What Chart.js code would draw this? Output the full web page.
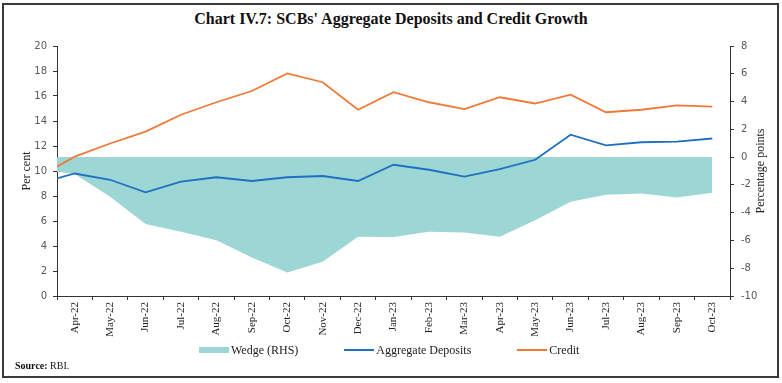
<!DOCTYPE html>
<html>
<head>
<meta charset="utf-8">
<script src="https://cdn.jsdelivr.net/npm/chart.js@4.4.0/dist/chart.umd.min.js"></script>
<style>
  body { margin: 0; background: #fff; }
  #frame { position: absolute; left: 2px; top: 3px; width: 773px; height: 371px; border: 2px solid #3a3a3a; }
  #title { position: absolute; left: 0; top: 10px; width: 782px; text-align: center;
           font: bold 16px "Liberation Serif", serif; color: #111; }
  #chart { position: absolute; left: 0; top: 0; }
  #legend { position: absolute; left: 199px; top: 342px; display: flex; gap: 46px;
            font: 12px "Liberation Serif", serif; color: #222; }
  #legend .item { display: flex; align-items: center; height: 16px; }
  #legend .mark { width: 30px; margin-right: 2px; }
  #source { position: absolute; left: 15px; top: 360px; font: 10px "Liberation Serif", serif; color: #111; }
</style>
</head>
<body>
<div id="frame"></div>
<div id="title">Chart IV.7: SCBs' Aggregate Deposits and Credit Growth</div>
<canvas id="chart" width="782" height="383"></canvas>
<div id="legend"></div>
<div id="source"><b>Source:</b> RBI.</div>
<script>
const tickLabels = ['Apr-22', 'May-22', 'Jun-22', 'Jul-22', 'Aug-22', 'Sep-22', 'Oct-22', 'Nov-22', 'Dec-22',
  'Jan-23', 'Feb-23', 'Mar-23', 'Apr-23', 'May-23', 'Jun-23', 'Jul-23', 'Aug-23', 'Sep-23', 'Oct-23'];
// first value of each series is the opening reading, sitting on the left edge of the axis
const depositGrowth = [9.4, 9.8, 9.3, 8.3, 9.15, 9.5, 9.2, 9.5, 9.6, 9.2, 10.5, 10.1, 9.55, 10.15, 10.9, 12.9, 12.05, 12.3, 12.35, 12.6];
const creditGrowth = [10.35, 11.15, 12.2, 13.15, 14.5, 15.5, 16.4, 17.8, 17.1, 14.9, 16.3, 15.5, 14.95, 15.9, 15.4, 16.1, 14.7, 14.9, 15.25, 15.15];
const wedgeRhs = [-1.06, -1.22, -2.86, -4.82, -5.37, -5.98, -7.22, -8.3, -7.54, -5.74, -5.76, -5.37, -5.42, -5.74, -4.54, -3.22, -2.71, -2.62, -2.9, -2.57];

const BLUE = '#1f70c1';
const ORANGE = '#ef7a37';
const TEAL = '#9dd7d5';
const AXIS = '#333';

function toPoints(vals) {
  return vals.map((v, i) => ({ x: i === 0 ? 0 : i - 0.5, y: v }));
}

const rhsTitle = {
  id: 'rhsTitle',
  afterDraw(chart) {
    const { ctx, chartArea } = chart;
    ctx.save();
    ctx.translate(chart.scales.y1.right - 21, (chartArea.top + chartArea.bottom) / 2);
    ctx.rotate(-Math.PI / 2);
    ctx.font = '12px "Liberation Serif"';
    ctx.fillStyle = '#222';
    ctx.textAlign = 'center';
    ctx.textBaseline = 'middle';
    ctx.fillText('Percentage points', 0, 0);
    ctx.restore();
  }
};

const yTicks = { font: { family: 'DejaVu Sans', size: 10 }, color: '#595959', stepSize: 2 };
const axisGrid = { drawOnChartArea: false, color: AXIS, tickLength: 4 };

const chart = new Chart(document.getElementById('chart'), {
  type: 'line',
  data: {
    labels: tickLabels,
    datasets: [
      { label: 'Aggregate Deposits', data: toPoints(depositGrowth), xAxisID: 'xd', yAxisID: 'y',
        borderColor: BLUE, borderWidth: 1.8, pointRadius: 0, tension: 0, fill: false },
      { label: 'Credit', data: toPoints(creditGrowth), xAxisID: 'xd', yAxisID: 'y',
        borderColor: ORANGE, borderWidth: 1.8, pointRadius: 0, tension: 0, fill: false },
      { label: 'Wedge (RHS)', data: toPoints(wedgeRhs), xAxisID: 'xd', yAxisID: 'y1',
        borderWidth: 0, borderColor: TEAL, backgroundColor: TEAL, pointRadius: 0, tension: 0, fill: 'origin' }
    ]
  },
  options: {
    responsive: false,
    animation: false,
    layout: { padding: { top: 46, left: 0, right: 0, bottom: 0 } },
    plugins: { legend: { display: false }, tooltip: { enabled: false } },
    scales: {
      x: {
        type: 'category', position: 'bottom', offset: true,
        grid: { ...axisGrid, offset: true },
        border: { color: AXIS, width: 1 },
        ticks: { font: { family: 'Liberation Serif', size: 11 }, color: '#222',
                 minRotation: 90, maxRotation: 90, autoSkip: false, padding: 2 },
        afterFit: s => { s.height = 87; }
      },
      xd: { type: 'linear', display: false, min: 0, max: tickLabels.length, offset: false },
      y: {
        position: 'left', min: 0, max: 20,
        grid: axisGrid, border: { color: AXIS, width: 1 },
        ticks: { ...yTicks, padding: 6 },
        title: { display: true, text: 'Per cent', font: { family: 'Liberation Serif', size: 12 },
                 color: '#222', padding: { top: 20, bottom: 0 } },
        afterFit: s => { s.width = 57; }
      },
      y1: {
        position: 'right', min: -10, max: 8,
        grid: axisGrid, border: { color: AXIS, width: 1 },
        ticks: { ...yTicks, padding: 7 },
        afterFit: s => { s.width = 52; }
      }
    }
  },
  plugins: [rhsTitle]
});

// legend built from the datasets, in the reference order
const legend = document.getElementById('legend');
['Wedge (RHS)', 'Aggregate Deposits', 'Credit'].forEach(name => {
  const ds = chart.data.datasets.find(d => d.label === name);
  const item = document.createElement('div');
  item.className = 'item';
  const mark = document.createElement('div');
  mark.className = 'mark';
  if (ds.fill) {
    mark.style.height = '6px';
    mark.style.background = ds.backgroundColor;
  } else {
    mark.style.height = '2px';
    mark.style.background = ds.borderColor;
  }
  item.appendChild(mark);
  item.appendChild(document.createTextNode(name));
  legend.appendChild(item);
});
</script>
</body>
</html>
